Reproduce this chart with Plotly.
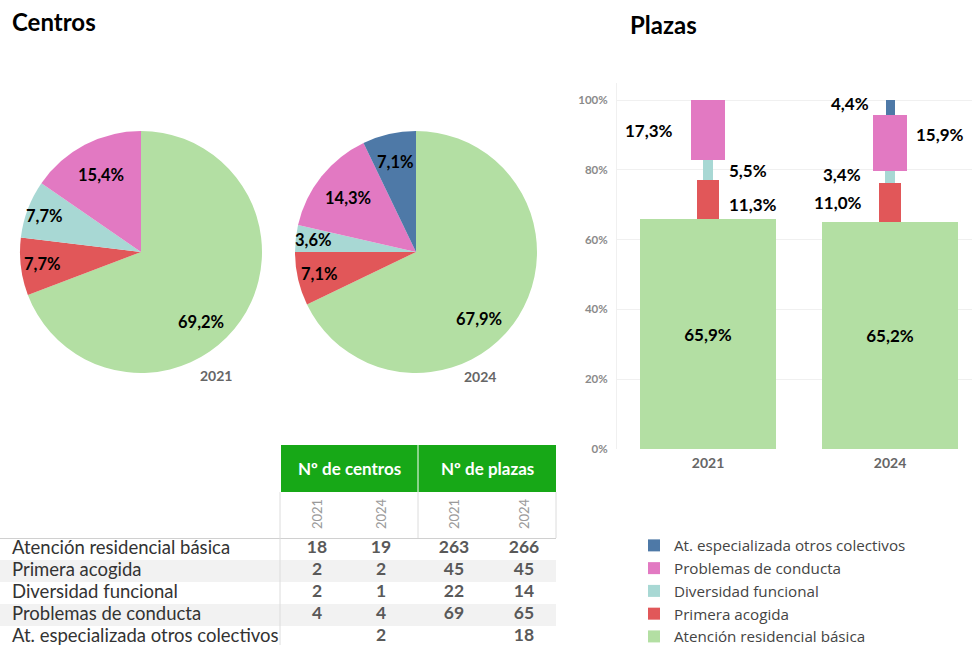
import math
import plotly.graph_objects as go

# ---------------- data ----------------
categories = ["Atención residencial básica", "Primera acogida", "Diversidad funcional",
              "Problemas de conducta", "At. especializada otros colectivos"]
years = ["2021", "2024"]
centros_2021 = [18, 2, 2, 4, None]
centros_2024 = [19, 2, 1, 4, 2]
plazas_2021 = [263, 45, 22, 69, None]
plazas_2024 = [266, 45, 14, 65, 18]
group_headers = ["Nº de centros", "Nº de plazas"]
y_ticks = [0, 0.2, 0.4, 0.6, 0.8, 1.0]

# ---------------- style ----------------
colors = ["#b3dfa3", "#e15759", "#a8d8d4", "#e279c2", "#4e79a7"]
bar_widths = [0.75, 0.125, 0.055, 0.19, 0.05]
FONT = "Lato"
W, H = 972, 645


def px(x):
    return x / W


def py(y):
    return 1 - y / H


def pct(s):
    return f"{s * 100:.1f}%".replace(".", ",")


fig = go.Figure()
annotations = []

# ---------------- pies (Centros) ----------------
pie_geom = {"2021": (141, 252), "2024": (416, 252)}
R = 121
label_r = [0.76, 0.82, 0.85, 0.72, 0.76]       # radial position of slice labels
label_turn = [15, 0, 0, 0, 0]                  # angular nudge (degrees) of slice labels
for yr, vals in zip(years, [centros_2021, centros_2024]):
    idx = [i for i, v in enumerate(vals) if v is not None]
    labs = [categories[i] for i in idx]
    vv = [vals[i] for i in idx]
    cols = [colors[i] for i in idx]
    cx, cy = pie_geom[yr]
    fig.add_trace(go.Pie(
        labels=labs, values=vv, sort=False, direction="clockwise", rotation=0,
        marker=dict(colors=cols, line=dict(width=0)),
        textinfo="none",
        domain=dict(x=[px(cx - R), px(cx + R)], y=[py(cy + R), py(cy - R)]),
        showlegend=False, hoverinfo="label+value+percent", name=yr,
    ))
    total = sum(vv)
    cum = 0
    for i, v in zip(idx, vv):
        frac = v / total
        ang = 2 * math.pi * (cum + frac / 2) + math.radians(label_turn[i])
        cum += frac
        r = label_r[i] * R
        annotations.append(dict(
            x=px(cx + r * math.sin(ang)), y=py(cy - r * math.cos(ang)),
            xref="paper", yref="paper", xanchor="center", yanchor="middle",
            text=pct(frac), showarrow=False,
            font=dict(family=FONT, size=16.5, color="black", weight="bold")))

# ---------------- stacked bars (Plazas) ----------------
tot = [sum(v for v in plazas_2021 if v), sum(v for v in plazas_2024 if v)]
shares = [[(a or 0) / tot[0], (b or 0) / tot[1]] for a, b in zip(plazas_2021, plazas_2024)]

for i, cat in enumerate(categories):
    tr = dict(x=years, y=shares[i], name=cat, width=bar_widths[i],
              marker=dict(color=colors[i], line=dict(width=0)),
              xaxis="x", yaxis="y", hoverinfo="name+y")
    if i == 0:
        tr.update(texttemplate="%{y:.1%}", textposition="inside", insidetextanchor="middle",
                  textfont=dict(family=FONT, size=17, color="black", weight="bold"))
    fig.add_trace(go.Bar(**tr))

# side labels for the small segments
label_style = {
    ("2021", 1): ("left", 19, -5), ("2021", 2): ("left", 19, 0), ("2021", 3): ("right", -33, 0),
    ("2024", 1): ("right", -26, 0), ("2024", 2): ("right", -27, 3), ("2024", 3): ("left", 24, 9),
    ("2024", 4): ("right", -19, 4),
}
for j, yr in enumerate(years):
    base = shares[0][j]
    for i in range(1, len(categories)):
        s = shares[i][j]
        if s > 0:
            anchor, xs, ys = label_style[(yr, i)]
            annotations.append(dict(x=j, y=base + s / 2, xref="x", yref="y", text=pct(s),
                                    showarrow=False, xanchor=anchor, xshift=xs, yshift=ys,
                                    font=dict(family=FONT, size=17, color="black", weight="bold")))
        base += s

# ---------------- table ----------------
col_x = [317, 381, 454, 524]
row_y0, row_h = 549, 22.0
row_y = [row_y0 + k * row_h for k in range(len(categories))]
table_cols = [centros_2021, centros_2024, plazas_2021, plazas_2024]
shapes = []
for k in range(len(categories)):
    if k % 2 == 1:
        shapes.append(dict(type="rect", xref="x2", yref="y2", x0=0, x1=556,
                           y0=row_y[k] - row_h / 2, y1=row_y[k] + row_h / 2,
                           fillcolor="#f2f2f2", line=dict(width=0), layer="below"))
shapes += [
    dict(type="rect", xref="x2", yref="y2", x0=281, x1=417.5, y0=445, y1=492,
         fillcolor="#17a817", line=dict(width=0)),
    dict(type="rect", xref="x2", yref="y2", x0=418.5, x1=556, y0=445, y1=492,
         fillcolor="#17a817", line=dict(width=0)),
    dict(type="line", xref="x2", yref="y2", x0=0, x1=556, y0=538.5, y1=538.5,
         line=dict(color="#d0d0d0", width=1)),
    dict(type="line", xref="x2", yref="y2", x0=280, x1=280, y0=492, y1=645,
         line=dict(color="#dcdcdc", width=1)),
    dict(type="line", xref="x2", yref="y2", x0=418, x1=418, y0=492, y1=538,
         line=dict(color="#dcdcdc", width=1)),
    dict(type="line", xref="x2", yref="y2", x0=556, x1=556, y0=492, y1=538,
         line=dict(color="#dcdcdc", width=1)),
]

fig.add_trace(go.Scatter(
    x=[12] * len(categories), y=row_y, text=categories, mode="text",
    textposition="middle right", xaxis="x2", yaxis="y2", cliponaxis=False,
    textfont=dict(family=FONT, size=18.5, color="#333333"), showlegend=False, hoverinfo="skip"))
for cx, col in zip(col_x, table_cols):
    fig.add_trace(go.Scatter(
        x=[cx] * len(col), y=row_y, text=["" if v is None else str(v) for v in col],
        mode="text", textposition="middle center", xaxis="x2", yaxis="y2", cliponaxis=False,
        textfont=dict(family=FONT, size=17.5, color="#595959", weight="bold"),
        showlegend=False, hoverinfo="skip"))

for gx, txt in zip([349, 487], group_headers):
    annotations.append(dict(x=gx, y=468.5, xref="x2", yref="y2", text=txt, showarrow=False,
                            xanchor="center", yanchor="middle",
                            font=dict(family=FONT, size=17, color="white", weight="bold")))
for cx, yr in zip(col_x, years * 2):
    annotations.append(dict(x=cx, y=514, xref="x2", yref="y2", text=yr, showarrow=False,
                            xanchor="center", yanchor="middle", textangle=-90,
                            font=dict(family=FONT, size=13, color="#9a9a9a")))

# titles and pie year labels
annotations += [
    dict(x=px(10), y=py(22), xref="paper", yref="paper", text="<b>Centros</b>", showarrow=False,
         xanchor="left", yanchor="middle", font=dict(family=FONT, size=24, color="black")),
    dict(x=px(628), y=py(24), xref="paper", yref="paper", text="<b>Plazas</b>", showarrow=False,
         xanchor="left", yanchor="middle", font=dict(family=FONT, size=24, color="black")),
    dict(x=px(216), y=py(375), xref="paper", yref="paper", text="<b>2021</b>", showarrow=False,
         xanchor="center", yanchor="middle", font=dict(family=FONT, size=14, color="#666666")),
    dict(x=px(480), y=py(377), xref="paper", yref="paper", text="<b>2024</b>", showarrow=False,
         xanchor="center", yanchor="middle", font=dict(family=FONT, size=14, color="#666666")),
]

fig.update_layout(
    width=W, height=H, margin=dict(l=0, r=0, t=0, b=0, autoexpand=False),
    paper_bgcolor="white", plot_bgcolor="white",
    separators=",.", barmode="stack", bargap=0,
    uniformtext=dict(minsize=14, mode="show"),
    font=dict(family=FONT),
    shapes=shapes, annotations=annotations,
    xaxis=dict(domain=[px(617), 1], range=[-0.5, 1.45], type="category",
               showgrid=False, showline=False, zeroline=False, ticks="", ticklabelstandoff=4,
               tickfont=dict(family=FONT, size=14, color="#666666", weight="bold")),
    yaxis=dict(domain=[py(449), py(83)], range=[0, 1.049], tickvals=y_ticks, tickformat=".0%",
               showgrid=True, gridcolor="#f0f0f0", zeroline=False,
               showline=True, linecolor="#f0f0f0", ticks="", ticklabelstandoff=6,
               tickfont=dict(family=FONT, size=11.5, color="#8a8a8a", weight="bold")),
    xaxis2=dict(domain=[0, px(560)], range=[0, 560], visible=False, fixedrange=True),
    yaxis2=dict(domain=[0, py(440)], range=[645, 440], visible=False, fixedrange=True),
    legend=dict(x=px(634), y=py(529), xanchor="left", yanchor="top", traceorder="reversed",
                font=dict(family="Open Sans", size=15.2, color="#444444"),
                bgcolor="rgba(0,0,0,0)", tracegroupgap=0),
)

fig.write_html("out.html", config={"displayModeBar": False},
               post_script="document.body.style.margin='0';")
